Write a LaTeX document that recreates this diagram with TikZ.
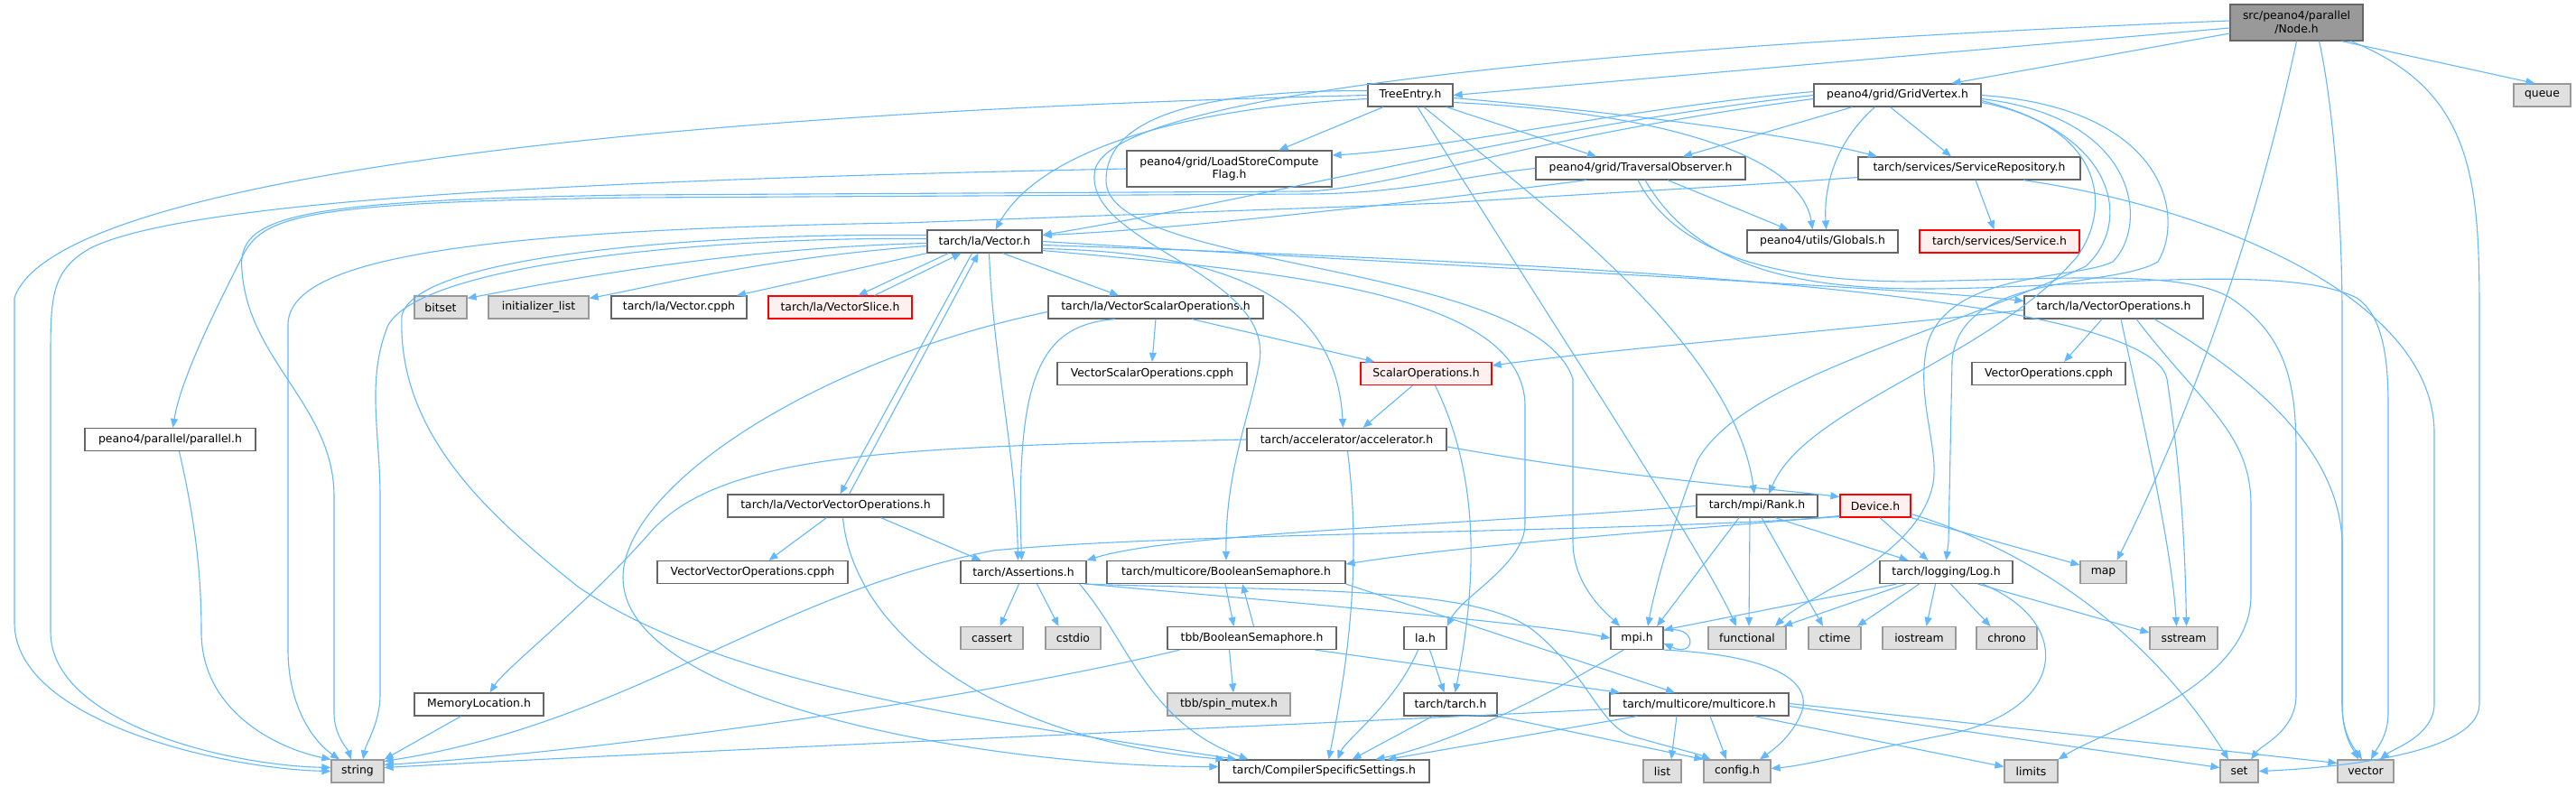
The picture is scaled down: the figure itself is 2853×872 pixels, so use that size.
\documentclass[tikz,border=0pt]{standalone}
\usepackage{fontspec}
\setmainfont{DejaVu Sans}
\usetikzlibrary{arrows.meta}
\definecolor{edgec}{HTML}{63B8FF}
\definecolor{bordc}{HTML}{666666}
\definecolor{sysbord}{HTML}{999999}
\definecolor{sysfill}{HTML}{E0E0E0}
\definecolor{redfill}{HTML}{FFF0F0}
\definecolor{rootfill}{HTML}{999999}
\newcommand\dgfont{\fontsize{12.4}{14.5}\selectfont}
\tikzset{
  dbox/.style={draw=bordc, fill=white, line width=1.2pt, minimum height=25pt, inner sep=2pt, font=\dgfont},
  sysbox/.style={dbox, draw=sysbord, fill=sysfill},
  redbox/.style={dbox, draw=red, fill=redfill},
  rootbox/.style={dbox, draw=bordc, fill=rootfill},
  dep/.style={draw=edgec, line width=1.1pt, -{Triangle[length=10pt,width=8pt]}},
}
\begin{document}
\begin{tikzpicture}[x=1pt,y=-1pt]
\fill[white] (0,0) rectangle (2853,872);
\useasboundingbox (0,0) rectangle (2853,872);

% ---------- nodes ----------
\node[rootbox, minimum width=147pt, minimum height=40pt, align=center] (root) at (2543.5,25) {src/peano4/parallel\\/Node.h};
\node[dbox, minimum width=94pt] (treeentry) at (1562,105.5) {TreeEntry.h};
\node[dbox, minimum width=185pt] (gridvertex) at (2101.5,105.5) {peano4/grid/GridVertex.h};
\node[sysbox, minimum width=63pt] (queue) at (2815.5,105.5) {queue};
\node[dbox, minimum width=227pt, minimum height=40pt, align=center] (lsc) at (1361.5,187) {peano4/grid/LoadStoreCompute\\Flag.h};
\node[dbox, minimum width=232pt] (traversal) at (1817,186.5) {peano4/grid/TraversalObserver.h};
\node[dbox, minimum width=246pt] (servrep) at (2181,186.5) {tarch/services/ServiceRepository.h};
\node[dbox, minimum width=127pt] (vector) at (1090.5,267.5) {tarch/la/Vector.h};
\node[dbox, minimum width=167pt] (globals) at (2018.5,267.5) {peano4/utils/Globals.h};
\node[redbox, minimum width=177pt] (service) at (2214.5,267.5) {tarch/services/Service.h};
\node[sysbox, minimum width=58pt] (bitset) at (488,340.5) {bitset};
\node[sysbox, minimum width=111pt] (initlist) at (596.5,340.5) {initializer\_list};
\node[dbox, minimum width=150pt] (veccpph) at (752,340.5) {tarch/la/Vector.cpph};
\node[redbox, minimum width=159pt] (vecslice) at (930.5,340.5) {tarch/la/VectorSlice.h};
\node[dbox, minimum width=238pt] (vso) at (1280,340.5) {tarch/la/VectorScalarOperations.h};
\node[dbox, minimum width=198pt] (vops) at (2341,340.5) {tarch/la/VectorOperations.h};
\node[dbox, minimum width=210pt] (vsocpph) at (1276,414) {VectorScalarOperations.cpph};
\node[redbox, minimum width=145pt] (scalarops) at (1579.5,414) {ScalarOperations.h};
\node[dbox, minimum width=170pt] (vopscpph) at (2269,414) {VectorOperations.cpph};
\node[dbox, minimum width=189pt] (parallel) at (188.5,487) {peano4/parallel/parallel.h};
\node[dbox, minimum width=221pt] (accel) at (1491.5,487) {tarch/accelerator/accelerator.h};
\node[dbox, minimum width=239pt] (vvo) at (925.5,560.5) {tarch/la/VectorVectorOperations.h};
\node[dbox, minimum width=134pt] (rank) at (1946,560.5) {tarch/mpi/Rank.h};
\node[redbox, minimum width=78pt] (device) at (2077,560.5) {Device.h};
\node[dbox, minimum width=211pt] (vvocpph) at (833.5,634) {VectorVectorOperations.cpph};
\node[dbox, minimum width=139pt] (assertions) at (1133.5,634) {tarch/Assertions.h};
\node[dbox, minimum width=264pt] (boolsem) at (1358,634) {tarch/multicore/BooleanSemaphore.h};
\node[dbox, minimum width=147pt] (logh) at (2155.5,634) {tarch/logging/Log.h};
\node[sysbox, minimum width=51pt] (nmap) at (2329.5,634) {map};
\node[sysbox, minimum width=69pt] (cassert) at (1098.5,707) {cassert};
\node[sysbox, minimum width=61pt] (cstdio) at (1188.5,707) {cstdio};
\node[dbox, minimum width=187pt] (tbbbool) at (1386.5,707) {tbb/BooleanSemaphore.h};
\node[dbox, minimum width=47pt] (lah) at (1578.5,707) {la.h};
\node[dbox, minimum width=58pt] (mpih) at (1813,707) {mpi.h};
\node[sysbox, minimum width=86pt] (functional) at (1935,707) {functional};
\node[sysbox, minimum width=58pt] (nctime) at (2032,707) {ctime};
\node[sysbox, minimum width=81pt] (iostream) at (2125.5,707) {iostream};
\node[sysbox, minimum width=67pt] (chrono) at (2222.5,707) {chrono};
\node[sysbox, minimum width=75pt] (sstream) at (2418.5,707) {sstream};
\node[dbox, minimum width=143pt] (memloc) at (530.5,780.5) {MemoryLocation.h};
\node[sysbox, minimum width=136pt] (spinmutex) at (1361,780.5) {tbb/spin\_mutex.h};
\node[dbox, minimum width=103pt] (tarchh) at (1606.5,780.5) {tarch/tarch.h};
\node[dbox, minimum width=198pt] (multicore) at (1882,780.5) {tarch/multicore/multicore.h};
\node[sysbox, minimum width=58pt] (nstring) at (396,854.5) {string};
\node[dbox, minimum width=233pt] (nss) at (1466.5,854.5) {tarch/CompilerSpecificSettings.h};
\node[sysbox, minimum width=42pt] (nlist) at (1841,854.5) {list};
\node[sysbox, minimum width=74pt] (config) at (1924,854.5) {config.h};
\node[sysbox, minimum width=59pt] (limits) at (2249.5,854.5) {limits};
\node[sysbox, minimum width=42pt] (nset) at (2480,854.5) {set};
\node[sysbox, minimum width=62pt] (stdvector) at (2620,854.5) {vector};

% ---------- edges: Node.h ----------
\draw[dep] ([yshift=-6pt]root.west) -- (treeentry.east);
\draw[dep] ([yshift=-12pt]root.west) -- ([xshift=60pt]gridvertex.north);
\draw[dep] ([xshift=50pt]root.south) -- ([xshift=-8pt]queue.north);
\draw[dep] ([yshift=2pt]root.west) .. controls (1800,50) and (1240,100) .. (1213,187) .. controls (1195,270) and (1410,300) .. (1395,400) .. controls (1385,460) and (1357,520) .. (boolsem.north);
\draw[dep] (root.south) .. controls (2500,250) and (2430,450) .. ([xshift=15pt]nmap.north);
\draw[dep] ([xshift=60pt]root.south) .. controls (2740,100) and (2746,200) .. (2746,350) -- (2746,780) .. controls (2746,840) and (2560,852) .. (nset.east);
\draw[dep] ([xshift=25pt]root.south) .. controls (2585,120) and (2594,250) .. (2594,350) -- (2594,780) .. controls (2594,815) and (2606,830) .. ([xshift=-8pt]stdvector.north);

% ---------- TreeEntry.h ----------
\draw[dep] (treeentry.west) .. controls (700,125) and (60,200) .. (16,330) -- (16,690) .. controls (16,800) and (250,852) .. (nstring.west);
\draw[dep] ([yshift=-4pt]treeentry.west) .. controls (1300,120) and (1150,170) .. ([xshift=12pt]vector.north);
\draw[dep] ([xshift=-30pt]treeentry.south) -- ([xshift=55pt]lsc.north);
\draw[dep] ([xshift=40pt]treeentry.south) -- ([xshift=-49pt]traversal.north);
\draw[dep] ([yshift=-3pt]treeentry.east) .. controls (1800,125) and (1990,150) .. ([xshift=-102pt]servrep.north);
\draw[dep] ([yshift=-8pt]treeentry.east) .. controls (1850,125) and (1995,175) .. ([xshift=-11pt]globals.north);
\draw[dep] ([xshift=15pt]treeentry.south) .. controls (1700,220) and (1920,380) .. ([xshift=-3pt]rank.north);
\draw[dep] ([xshift=8pt]treeentry.south) .. controls (1700,330) and (1880,600) .. ([xshift=-12pt]functional.north);
\draw[dep] ([yshift=5pt]treeentry.west) .. controls (1300,100) and (1225,140) .. (1225,200) .. controls (1225,300) and (1700,290) .. (1742,420) -- (1742,600) .. controls (1742,650) and (1780,680) .. ([xshift=-19pt]mpih.north);

% ---------- GridVertex.h ----------
\draw[dep] ([yshift=4pt]gridvertex.west) .. controls (1800,120) and (1600,165) .. ([yshift=15pt]lsc.east);
\draw[dep] (gridvertex.west) .. controls (1700,140) and (1400,220) .. ([yshift=7pt]vector.east);
\draw[dep] ([yshift=-4pt]gridvertex.west) .. controls (1700,150) and (1560,205) .. (1450,212) -- (700,216) .. controls (320,222) and (262,240) .. (268,300) .. controls (275,400) and (370,450) .. (370,550) -- (370,790) .. controls (370,815) and (385,830) .. ([xshift=-7pt]nstring.north);
\draw[dep] ([xshift=-50pt]gridvertex.south) -- ([xshift=47pt]traversal.north);
\draw[dep] ([xshift=-25pt]gridvertex.south) .. controls (2030,160) and (2020,210) .. ([xshift=4pt]globals.north);
\draw[dep] ([xshift=-8pt]gridvertex.south) -- ([xshift=-20pt]servrep.north);
\draw[dep] ([yshift=-8pt]gridvertex.east) .. controls (2330,140) and (2340,230) .. (2300,285) .. controls (2200,400) and (2000,450) .. ([xshift=13pt]rank.north);
\draw[dep] ([yshift=-4pt]gridvertex.east) .. controls (2370,130) and (2380,250) .. (2340,290) .. controls (2300,310) and (2160,300) .. (2135,380) .. controls (2120,440) and (2150,500) .. (2140,540) .. controls (2120,620) and (2000,660) .. ([xshift=31pt]functional.north);
\draw[dep] (gridvertex.east) .. controls (2400,120) and (2420,240) .. (2390,290) .. controls (2340,320) and (2170,300) .. (2162,400) -- (2158,600) -- (logh.north);
\draw[dep] ([yshift=-6pt]gridvertex.east) .. controls (2350,150) and (2360,250) .. (2310,295) .. controls (2150,370) and (1930,420) .. (1880,510) .. controls (1860,560) and (1835,640) .. ([xshift=12pt]mpih.north);

% ---------- LoadStoreComputeFlag.h ----------
\draw[dep] (lsc.west) .. controls (600,200) and (200,225) .. (100,275) .. controls (56,300) and (56,330) .. (56,400) -- (56,700) .. controls (56,800) and (250,848) .. ([yshift=4pt]nstring.west);

% ---------- TraversalObserver.h ----------
\draw[dep] ([xshift=-60pt]traversal.south) .. controls (1600,220) and (1300,255) .. ([yshift=7pt]vector.east);
\draw[dep] ([xshift=30pt]traversal.south) -- ([xshift=-38pt]globals.north);
\draw[dep] (traversal.west) .. controls (1620,195) and (1560,214) .. (1450,215) -- (700,219) .. controls (330,224) and (290,240) .. (268,285) .. controls (240,340) and (200,420) .. ([xshift=3pt]parallel.north);
\draw[dep] ([xshift=5pt]traversal.south) .. controls (1880,300) and (2000,320) .. (2131,320) .. controls (2300,320) and (2530,290) .. (2610,330) .. controls (2640,350) and (2645,400) .. (2645,450) -- (2645,790) .. controls (2645,815) and (2632,830) .. ([xshift=6pt]stdvector.north);
\draw[dep] ([xshift=-3pt]traversal.south) .. controls (1860,290) and (1990,312) .. (2120,312) .. controls (2300,308) and (2420,300) .. (2470,330) .. controls (2530,370) and (2543,420) .. (2543,500) -- (2543,770) .. controls (2543,810) and (2505,825) .. ([xshift=13pt]nset.north);

% ---------- ServiceRepository.h ----------
\draw[dep] ([xshift=7pt]servrep.south) -- ([xshift=-6pt]service.north);
\draw[dep] ([yshift=-10pt]servrep.west) .. controls (1900,208) and (1750,215) .. (1600,225) -- (1000,247) .. controls (500,255) and (319,290) .. (319,360) -- (319,720) .. controls (319,780) and (345,820) .. ([xshift=-20pt]nstring.north);
\draw[dep] ([xshift=60pt]servrep.south) .. controls (2450,230) and (2696,330) .. (2696,480) -- (2696,780) .. controls (2696,815) and (2650,830) .. ([xshift=16pt]stdvector.north);

% ---------- Vector.h ----------
\draw[dep] ([yshift=-2pt]vector.west) .. controls (800,275) and (600,315) .. ([yshift=10pt]bitset.east);
\draw[dep] ([yshift=-5pt]vector.west) .. controls (850,285) and (720,318) .. ([yshift=10pt]initlist.east);
\draw[dep] (vector.south west) -- ([xshift=64pt]veccpph.north);
\draw[dep] ([xshift=-40pt]vector.south) -- ([xshift=20pt]vecslice.north);
\draw[dep] ([xshift=38pt]vecslice.north) -- ([xshift=-26pt]vector.south);
\draw[dep] ([xshift=20pt]vector.south) -- ([xshift=-41pt]vso.north);
\draw[dep] (vector.east) .. controls (1600,295) and (2100,318) .. ([yshift=7pt]vops.west);
\draw[dep] ([xshift=-14pt]vector.south) -- ([xshift=5pt]vvo.north);
\draw[dep] ([xshift=15pt]vvo.north) -- ([xshift=-7pt]vector.south);
\draw[dep] ([yshift=-8pt]vector.east) .. controls (1380,280) and (1480,340) .. ([xshift=-4pt]accel.north);
\draw[dep] ([xshift=5pt]vector.south) .. controls (1100,400) and (1125,500) .. ([xshift=-6pt]assertions.north);
\draw[dep] ([yshift=-10pt]vector.east) .. controls (1400,300) and (1689,320) .. (1689,450) -- (1689,580) .. controls (1689,625) and (1620,660) .. (lah.north east);
\draw[dep] ([yshift=3pt]vector.west) .. controls (800,262) and (470,290) .. (430,360) .. controls (405,420) and (421,480) .. (421,550) -- (421,770) .. controls (421,800) and (405,825) .. ([xshift=6pt]nstring.north);
\draw[dep] ([yshift=7pt]vector.west) .. controls (800,258) and (460,280) .. (445,350) .. controls (440,480) and (540,570) .. (640,650) .. controls (800,760) and (1100,800) .. ([xshift=-97pt]nss.north);
\draw[dep] ([yshift=-4pt]vector.east) .. controls (1700,290) and (2380,320) .. (2400,420) .. controls (2415,520) and (2420,600) .. ([xshift=3pt]sstream.north);

% ---------- VectorScalarOperations.h ----------
\draw[dep] (vso.south) -- (vsocpph.north);
\draw[dep] ([xshift=40pt]vso.south) -- ([xshift=-57pt]scalarops.north);
\draw[dep] ([xshift=-45pt]vso.south) .. controls (1150,360) and (1125,420) .. ([xshift=-2pt]assertions.north);
\draw[dep] ([yshift=-5pt]vso.west) .. controls (900,400) and (690,540) .. (690,640) .. controls (690,780) and (1100,850) .. ([yshift=5pt]nss.west);

% ---------- VectorOperations.h ----------
\draw[dep] ([yshift=-3pt]vops.west) .. controls (2000,370) and (1800,385) .. ([yshift=9pt]scalarops.east);
\draw[dep] ([xshift=-13pt]vops.south) -- ([xshift=17pt]vopscpph.north);
\draw[dep] ([xshift=8pt]vops.south) .. controls (2365,430) and (2405,600) .. ([xshift=-8pt]sstream.north);
\draw[dep] ([xshift=25pt]vops.south) .. controls (2440,450) and (2493,480) .. (2493,560) -- (2493,660) .. controls (2493,760) and (2330,810) .. (limits.north east);
\draw[dep] ([xshift=45pt]vops.south) .. controls (2500,420) and (2590,500) .. (2594,600) -- (2594,780) .. controls (2594,815) and (2608,830) .. ([xshift=-4pt]stdvector.north);

% ---------- ScalarOperations.h ----------
\draw[dep] ([xshift=-15pt]scalarops.south) -- ([xshift=18pt]accel.north);
\draw[dep] ([xshift=10pt]scalarops.south) .. controls (1625,500) and (1645,600) .. ([xshift=5pt]tarchh.north);

% ---------- accelerator.h ----------
\draw[dep] (accel.west) .. controls (1000,495) and (800,500) .. (720,590) .. controls (650,670) and (560,740) .. ([xshift=12pt]memloc.north);
\draw[dep] ([yshift=-8pt]accel.east) .. controls (1800,530) and (1950,540) .. ([yshift=10pt]device.west);
\draw[dep] ([xshift=1pt]accel.south) .. controls (1505,600) and (1500,700) .. ([xshift=5pt]nss.north);

% ---------- VectorVectorOperations.h ----------
\draw[dep] ([xshift=-10pt]vvo.south) -- ([xshift=18pt]vvocpph.north);
\draw[dep] ([xshift=50pt]vvo.south) -- ([xshift=-47pt]assertions.north);
\draw[dep] ([xshift=8pt]vvo.south) .. controls (945,700) and (1100,820) .. ([xshift=-110pt]nss.north);

% ---------- parallel.h ----------
\draw[dep] ([xshift=10pt]parallel.south) .. controls (212,560) and (223,620) .. (223,700) .. controls (223,790) and (310,830) .. (nstring.north west);

% ---------- Rank.h ----------
\draw[dep] ([xshift=20pt]rank.south) -- ([xshift=-42pt]logh.north);
\draw[dep] ([xshift=-20pt]rank.south) -- ([xshift=22pt]mpih.north);
\draw[dep] ([xshift=-8pt]rank.south) -- ([xshift=2pt]functional.north);
\draw[dep] ([xshift=5pt]rank.south) -- ([xshift=-13pt]nctime.north);
\draw[dep] (rank.west) .. controls (1650,580) and (1300,590) .. (assertions.north east);

% ---------- Device.h ----------
\draw[dep] ([xshift=5pt]device.south) -- ([xshift=-20pt]logh.north);
\draw[dep] (device.south east) -- ([yshift=8pt]nmap.west);
\draw[dep] ([yshift=-9pt]device.east) .. controls (2250,610) and (2380,700) .. ([xshift=-12pt]nset.north);
\draw[dep] ([yshift=-11pt]device.west) .. controls (1900,585) and (1650,600) .. ([yshift=9pt]boolsem.east);
\draw[dep] ([yshift=-12pt]device.west) .. controls (1800,590) and (1300,590) .. (1100,610) .. controls (850,660) and (700,800) .. ([yshift=11pt]nstring.east);

% ---------- MemoryLocation.h ----------
\draw[dep] ([xshift=-20pt]memloc.south) -- (nstring.north east);

% ---------- Assertions.h ----------
\draw[dep] ([xshift=-5pt]assertions.south) -- ([xshift=9pt]cassert.north);
\draw[dep] ([xshift=15pt]assertions.south) -- ([xshift=-16pt]cstdio.north);
\draw[dep] ([xshift=-8pt]assertions.south east) .. controls (1250,710) and (1270,800) .. ([xshift=-84pt]nss.north);
\draw[dep] (assertions.south east) .. controls (1400,665) and (1700,690) .. (mpih.west);
\draw[dep] ([xshift=-3pt]assertions.south east) .. controls (1450,655) and (1640,650) .. (1700,700) .. controls (1760,750) and (1770,800) .. (1805,815) .. controls (1850,828) and (1880,835) .. ([xshift=8pt]config.north west);

% ---------- BooleanSemaphore.h ----------
\draw[dep] ([xshift=-1pt]boolsem.south) -- ([xshift=-20pt]tbbbool.north);
\draw[dep] ([xshift=2pt]tbbbool.north) -- ([xshift=18pt]boolsem.south);
\draw[dep] (boolsem.south east) -- ([xshift=-27pt]multicore.north);

% ---------- tbb/BooleanSemaphore.h ----------
\draw[dep] ([xshift=-25pt]tbbbool.south) -- ([xshift=5pt]spinmutex.north);
\draw[dep] ([xshift=70pt]tbbbool.south) -- ([xshift=-88pt]multicore.north);
\draw[dep] ([xshift=-80pt]tbbbool.south) .. controls (1100,770) and (700,830) .. ([yshift=7pt]nstring.east);

% ---------- Log.h ----------
\draw[dep] ([xshift=-55pt]logh.south) -- ([yshift=9pt]mpih.east);
\draw[dep] ([xshift=-45pt]logh.south) -- ([xshift=40pt]functional.north);
\draw[dep] ([xshift=-30pt]logh.south) -- ([xshift=25pt]nctime.north);
\draw[dep] ([xshift=-12pt]logh.south) -- ([xshift=8pt]iostream.north);
\draw[dep] ([xshift=5pt]logh.south) -- ([xshift=-18pt]chrono.north);
\draw[dep] ([xshift=35pt]logh.south) -- ([yshift=6pt]sstream.west);
\draw[dep] ([xshift=40pt]logh.south) .. controls (2300,690) and (2290,790) .. (2150,815) .. controls (2050,835) and (2000,848) .. ([yshift=3pt]config.east);

% ---------- la.h / tarch.h ----------
\draw[dep] ([xshift=5pt]lah.south) -- ([xshift=-7pt]tarchh.north);
\draw[dep] ([xshift=-8pt]lah.south) .. controls (1545,780) and (1490,820) .. ([xshift=15pt]nss.north);
\draw[dep] ([xshift=-20pt]tarchh.south) -- ([xshift=31pt]nss.north);
\draw[dep] (tarchh.south east) -- (config.north west);

% ---------- mpi.h ----------
\draw[dep] ([xshift=-15pt]mpih.south) .. controls (1700,780) and (1600,825) .. ([xshift=57pt]nss.north);
\draw[dep] (mpih.south east) .. controls (1950,725) and (2010,750) .. (1995,790) .. controls (1985,815) and (1965,830) .. ([xshift=25pt]config.north);
\draw[dep] ([yshift=8pt]mpih.east) .. controls (1880,690) and (1880,730) .. ([yshift=-6pt]mpih.east);

% ---------- multicore.h ----------
\draw[dep] ([yshift=-5pt]multicore.west) .. controls (1400,805) and (800,830) .. ([yshift=4pt]nstring.east);
\draw[dep] ([xshift=-69pt]multicore.south) -- ([xshift=70pt]nss.north);
\draw[dep] ([xshift=-25pt]multicore.south) -- ([xshift=10pt]nlist.north);
\draw[dep] ([xshift=12pt]multicore.south) -- ([xshift=-12pt]config.north);
\draw[dep] ([xshift=61pt]multicore.south) -- ([yshift=5pt]limits.west);
\draw[dep] ([yshift=-2pt]multicore.east) -- ([yshift=4pt]nset.west);
\draw[dep] ([yshift=1pt]multicore.east) -- ([yshift=9pt]stdvector.west);
\end{tikzpicture}
\end{document}
